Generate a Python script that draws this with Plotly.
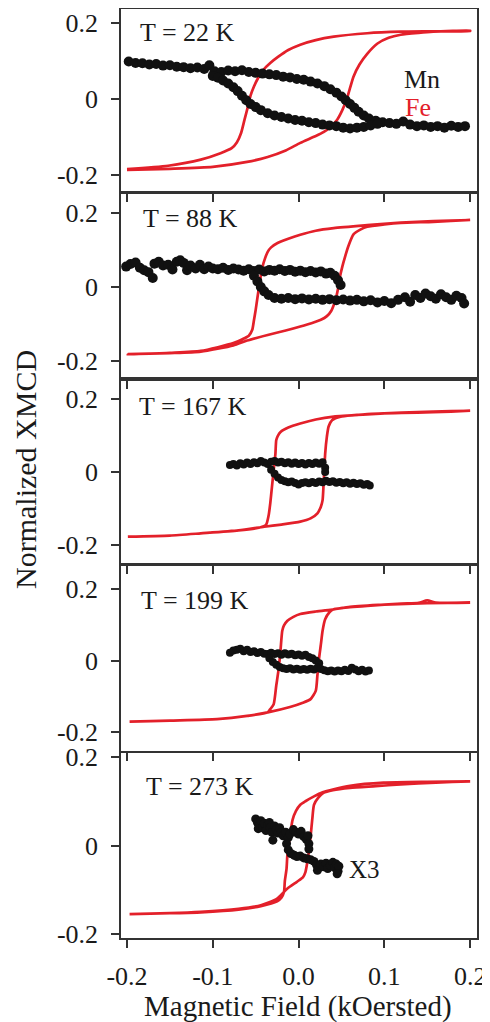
import plotly.graph_objects as go

# ---------------- data ----------------
temps = ["T = 22 K", "T = 88 K", "T = 167 K", "T = 199 K", "T = 273 K"]
x_ticks = [-0.2, -0.1, 0.0, 0.1, 0.2]
x_tick_text = ["-0.2", "-0.1", "0.0", "0.1", "0.2"]
y_ticks = [-0.2, 0, 0.2]
y_tick_text = ["-0.2", "0", "0.2"]

# Fe loops: ascending branch (field -0.2 -> 0.2) then descending branch (0.2 -> -0.2)
fe1_up_x = [-0.2, -0.15, -0.1, -0.06, -0.036, -0.015, 0.002, 0.018, 0.029, 0.038, 0.045, 0.051, 0.057, 0.064, 0.071, 0.08, 0.092, 0.105, 0.119, 0.14, 0.157, 0.18, 0.2]
fe1_up_y = [-0.187, -0.184, -0.179, -0.166, -0.153, -0.136, -0.116, -0.1, -0.088, -0.072, -0.055, -0.03, 0.005, 0.058, 0.09, 0.118, 0.145, 0.16, 0.168, 0.173, 0.176, 0.178, 0.179]
fe1_dn_x = [0.2, 0.15, 0.119, 0.08, 0.041, 0.02, 0.002, -0.012, -0.024, -0.033, -0.041, -0.047, -0.052, -0.056, -0.059, -0.063, -0.067, -0.072, -0.078, -0.091, -0.114, -0.152, -0.2]
fe1_dn_y = [0.178, 0.177, 0.176, 0.172, 0.163, 0.154, 0.142, 0.128, 0.11, 0.094, 0.076, 0.055, 0.032, 0.008, -0.02, -0.055, -0.09, -0.115, -0.13, -0.143, -0.16, -0.176, -0.185]

fe2_up_x = [-0.199, -0.15, -0.114, -0.076, -0.06, -0.036, -0.015, 0.002, 0.015, 0.026, 0.033, 0.038, 0.043, 0.046, 0.048, 0.051, 0.054, 0.058, 0.064, 0.072, 0.08, 0.1, 0.119, 0.157, 0.2]
fe2_up_y = [-0.182, -0.179, -0.175, -0.158, -0.145, -0.13, -0.118, -0.107, -0.098, -0.089, -0.079, -0.065, -0.035, -0.005, 0.025, 0.055, 0.08, 0.11, 0.142, 0.155, 0.163, 0.169, 0.173, 0.176, 0.181]
fe2_dn_x = [0.2, 0.157, 0.119, 0.08, 0.041, 0.02, 0.002, -0.012, -0.025, -0.032, -0.036, -0.039, -0.042, -0.044, -0.046, -0.048, -0.05, -0.052, -0.054, -0.058, -0.066, -0.076, -0.114, -0.15, -0.199]
fe2_dn_y = [0.181, 0.178, 0.174, 0.167, 0.159, 0.152, 0.141, 0.13, 0.118, 0.107, 0.095, 0.078, 0.055, 0.03, 0.001, -0.03, -0.062, -0.09, -0.116, -0.132, -0.142, -0.152, -0.173, -0.178, -0.182]

fe3_up_x = [-0.199, -0.15, -0.114, -0.07, -0.04, -0.02, 0.002, 0.014, 0.022, 0.026, 0.028, 0.029, 0.03, 0.031, 0.033, 0.035, 0.039, 0.049, 0.065, 0.08, 0.12, 0.157, 0.2]
fe3_up_y = [-0.177, -0.174, -0.168, -0.16, -0.15, -0.144, -0.136, -0.127, -0.113, -0.095, -0.077, -0.04, 0.005, 0.05, 0.097, 0.125, 0.142, 0.152, 0.156, 0.159, 0.162, 0.164, 0.168]
fe3_dn_x = [0.2, 0.157, 0.12, 0.08, 0.041, 0.02, 0.002, -0.012, -0.021, -0.024, -0.026, -0.027, -0.029, -0.031, -0.033, -0.035, -0.038, -0.045, -0.07, -0.114, -0.15, -0.199]
fe3_dn_y = [0.168, 0.166, 0.163, 0.158, 0.152, 0.144, 0.133, 0.122, 0.11, 0.1, 0.088, 0.05, 0.005, -0.04, -0.086, -0.12, -0.145, -0.152, -0.16, -0.168, -0.174, -0.177]

fe4_up_x = [-0.197, -0.15, -0.095, -0.06, -0.036, -0.01, 0.005, 0.014, 0.02, 0.022, 0.024, 0.026, 0.028, 0.031, 0.036, 0.041, 0.06, 0.08, 0.12, 0.14, 0.15, 0.16, 0.2]
fe4_up_y = [-0.171, -0.168, -0.164, -0.155, -0.145, -0.13, -0.118, -0.108, -0.085, -0.04, 0.008, 0.045, 0.083, 0.115, 0.135, 0.143, 0.149, 0.153, 0.159, 0.161, 0.168, 0.162, 0.162]
fe4_dn_x = [0.2, 0.15, 0.1, 0.06, 0.041, 0.02, 0.002, -0.006, -0.013, -0.017, -0.019, -0.021, -0.023, -0.026, -0.029, -0.033, -0.036, -0.06, -0.095, -0.15, -0.197]
fe4_dn_y = [0.162, 0.16, 0.156, 0.15, 0.143, 0.137, 0.13, 0.122, 0.111, 0.098, 0.083, 0.03, -0.02, -0.07, -0.122, -0.136, -0.145, -0.155, -0.164, -0.168, -0.171]

fe5_up_x = [-0.197, -0.15, -0.114, -0.07, -0.044, -0.025, -0.013, -0.002, 0.005, 0.008, 0.01, 0.012, 0.014, 0.016, 0.018, 0.023, 0.029, 0.04, 0.06, 0.09, 0.119, 0.16, 0.2]
fe5_up_y = [-0.155, -0.153, -0.15, -0.143, -0.135, -0.12, -0.097, -0.082, -0.072, -0.06, -0.04, -0.014, 0.02, 0.06, 0.092, 0.108, 0.119, 0.125, 0.13, 0.134, 0.138, 0.142, 0.145]
fe5_dn_x = [0.2, 0.15, 0.099, 0.06, 0.041, 0.028, 0.018, 0.008, 0.002, -0.003, -0.007, -0.009, -0.011, -0.013, -0.014, -0.016, -0.017, -0.02, -0.025, -0.044, -0.07, -0.114, -0.15, -0.197]
fe5_dn_y = [0.145, 0.144, 0.142, 0.135, 0.127, 0.12, 0.111, 0.1, 0.092, 0.078, 0.058, 0.035, 0.009, -0.02, -0.052, -0.08, -0.105, -0.118, -0.126, -0.137, -0.145, -0.151, -0.153, -0.155]

# Mn XMCD points
mn1_x = [-0.198, -0.19, -0.182, -0.174, -0.166, -0.158, -0.15, -0.142, -0.134, -0.126, -0.118, -0.11, -0.104,
         -0.098, -0.09, -0.082, -0.074, -0.066, -0.058, -0.05, -0.042, -0.034, -0.026, -0.018, -0.01, -0.002, 0.006, 0.014, 0.022, 0.03, 0.037, 0.044, 0.05, 0.055, 0.06, 0.065, 0.07, 0.076, 0.082, 0.09, 0.098,
         0.106, 0.114, 0.122, 0.13, 0.138, 0.146, 0.154, 0.162, 0.17, 0.178, 0.186, 0.194,
         -0.1, -0.094, -0.088, -0.082, -0.076, -0.071, -0.066, -0.061, -0.056, -0.05, -0.044, -0.036, -0.028, -0.02, -0.012, -0.004, 0.004, 0.012, 0.02, 0.028, 0.036, 0.044, 0.052, 0.06, 0.068, 0.076, 0.084, 0.092]
mn1_y = [0.098, 0.094, 0.093, 0.09, 0.091, 0.087, 0.088, 0.084, 0.083, 0.08, 0.082, 0.078, 0.088,
         0.072, 0.07, 0.074, 0.072, 0.075, 0.07, 0.068, 0.066, 0.064, 0.062, 0.058, 0.056, 0.052, 0.05, 0.045, 0.04, 0.033, 0.025, 0.016, 0.006, -0.004, -0.014, -0.024, -0.034, -0.044, -0.052, -0.058, -0.062,
         -0.064, -0.066, -0.06, -0.068, -0.072, -0.07, -0.074, -0.072, -0.076, -0.071, -0.074, -0.072,
         0.06, 0.055, 0.048, 0.04, 0.03, 0.02, 0.008, -0.004, -0.014, -0.022, -0.03, -0.038, -0.044, -0.048, -0.052, -0.056, -0.058, -0.062, -0.064, -0.068, -0.07, -0.072, -0.076, -0.078, -0.076, -0.074, -0.07, -0.066]

mn2_x = [-0.201, -0.196, -0.19, -0.185, -0.18, -0.175, -0.17, -0.168, -0.163, -0.158, -0.152, -0.147, -0.142, -0.138, -0.134, -0.13, -0.126, -0.12, -0.115, -0.11, -0.105, -0.1,
         -0.094, -0.088, -0.082, -0.076, -0.07, -0.064, -0.058, -0.052, -0.046, -0.04, -0.034, -0.028, -0.022, -0.016, -0.01, -0.004, 0.002, 0.008, 0.014, 0.02, 0.026, 0.032, 0.037, 0.042, 0.046, 0.049,
         -0.052, -0.048, -0.044, -0.04, -0.035, -0.028, -0.02, -0.012, -0.004, 0.004, 0.012, 0.02, 0.028, 0.036, 0.044, 0.052, 0.06, 0.068, 0.076, 0.084, 0.092, 0.1, 0.108, 0.116, 0.124, 0.13, 0.136, 0.142, 0.148, 0.154, 0.16, 0.166, 0.172, 0.178, 0.184, 0.19, 0.193]
mn2_y = [0.055, 0.062, 0.066, 0.052, 0.045, 0.04, 0.024, 0.063, 0.068, 0.058, 0.06, 0.047, 0.068, 0.072, 0.065, 0.045, 0.058, 0.05, 0.06, 0.048, 0.055, 0.05,
         0.048, 0.052, 0.046, 0.05, 0.047, 0.044, 0.048, 0.043, 0.047, 0.042, 0.046, 0.044, 0.048, 0.043, 0.046, 0.041, 0.044, 0.04, 0.043, 0.039, 0.042, 0.036, 0.038, 0.03, 0.018, 0.005,
         0.03, 0.015, 0.0, -0.012, -0.022, -0.03, -0.032, -0.03, -0.033, -0.031, -0.034, -0.032, -0.035, -0.033, -0.036, -0.034, -0.037, -0.035, -0.039, -0.036, -0.042, -0.038, -0.044, -0.035, -0.028, -0.04, -0.022, -0.03, -0.018, -0.025, -0.032, -0.02, -0.028, -0.035, -0.024, -0.03, -0.045]

mn3_x = [-0.08, -0.076, -0.072, -0.068, -0.064, -0.06, -0.056, -0.052, -0.048, -0.044, -0.04, -0.036, -0.032, -0.028, -0.024, -0.02, -0.016, -0.012, -0.008, -0.004, 0.0, 0.004, 0.008, 0.012, 0.016, 0.02, 0.024, 0.028, 0.031, 0.031,
         -0.032, -0.028, -0.024, -0.02, -0.016, -0.012, -0.008, -0.004, 0.0, 0.004, 0.008, 0.012, 0.016, 0.02, 0.024, 0.028, 0.032, 0.036, 0.04, 0.044, 0.048, 0.052, 0.056, 0.06, 0.064, 0.068, 0.072, 0.076, 0.08, 0.083]
mn3_y = [0.019, 0.022, 0.018, 0.024, 0.021, 0.026, 0.022, 0.027, 0.024, 0.03, 0.026, 0.022, 0.028, 0.03, 0.026, 0.028, 0.024, 0.027, 0.023, 0.026, 0.022, 0.025, 0.021, 0.025, 0.022, 0.026, 0.023, 0.027, 0.012, 0.0,
         0.006, -0.005, -0.015, -0.022, -0.025, -0.028, -0.026, -0.03, -0.034, -0.03, -0.028, -0.031, -0.027, -0.03, -0.026, -0.028, -0.024, -0.027, -0.025, -0.029, -0.027, -0.031, -0.028, -0.032, -0.029, -0.033, -0.031, -0.035, -0.033, -0.037]

mn4_x = [-0.08, -0.076, -0.072, -0.068, -0.064, -0.06, -0.056, -0.052, -0.048, -0.044, -0.04, -0.036, -0.032, -0.028, -0.024, -0.02, -0.016, -0.012, -0.008, -0.004, 0.0, 0.004, 0.008, 0.012, 0.016, 0.02, 0.024,
         -0.034, -0.03, -0.026, -0.022, -0.018, -0.014, -0.01, -0.006, -0.002, 0.002, 0.006, 0.01, 0.014, 0.018, 0.022, 0.026, 0.03, 0.034, 0.038, 0.042, 0.046, 0.05, 0.054, 0.058, 0.062, 0.066, 0.07, 0.074, 0.078, 0.082]
mn4_y = [0.022, 0.028, 0.03, 0.033, 0.026, 0.03, 0.024, 0.026, 0.021, 0.024, 0.019, 0.018, 0.022, 0.018, 0.02, 0.016, 0.02, 0.017, 0.019, 0.015, 0.017, 0.013, 0.016, 0.01, 0.006, 0.0, -0.008,
         0.006, -0.004, -0.012, -0.018, -0.022, -0.024, -0.022, -0.025, -0.023, -0.026, -0.024, -0.026, -0.023, -0.025, -0.02, -0.024, -0.027, -0.03, -0.028, -0.031, -0.028, -0.03, -0.026, -0.029, -0.02, -0.025, -0.03, -0.026, -0.031, -0.028]

mn5_x = [-0.05, -0.048, -0.046, -0.047, -0.044, -0.042, -0.04, -0.038, -0.036, -0.034, -0.033, -0.031, -0.03, -0.028, -0.026, -0.024, -0.022, -0.02, -0.018, -0.015, -0.012, -0.01, -0.006, -0.003, 0.0, 0.003, 0.006, 0.009, 0.011, 0.012, 0.012,
         -0.014, -0.012, -0.009, -0.005, -0.002, 0.002, 0.006, 0.01, 0.014, 0.018, 0.021, 0.024, 0.022, 0.026, 0.029, 0.032, 0.034, 0.037, 0.04, 0.042, 0.044, 0.046, 0.047, 0.045]
mn5_y = [0.06, 0.052, 0.045, 0.038, 0.056, 0.04, 0.05, 0.034, 0.046, 0.052, 0.04, 0.03, 0.012, 0.044, 0.036, 0.028, 0.04, 0.03, 0.022, 0.03, 0.018, 0.026, 0.036, 0.03, 0.026, 0.032, 0.02, 0.014, 0.022, 0.004, -0.008,
         0.004, -0.01, -0.018, -0.022, -0.025, -0.024, -0.028, -0.03, -0.032, -0.036, -0.044, -0.05, -0.056, -0.042, -0.048, -0.04, -0.052, -0.045, -0.038, -0.05, -0.042, -0.058, -0.047, -0.064]

fe_loops = [
    (fe1_up_x + fe1_dn_x, fe1_up_y + fe1_dn_y),
    (fe2_up_x + fe2_dn_x, fe2_up_y + fe2_dn_y),
    (fe3_up_x + fe3_dn_x, fe3_up_y + fe3_dn_y),
    (fe4_up_x + fe4_dn_x, fe4_up_y + fe4_dn_y),
    (fe5_up_x + fe5_dn_x, fe5_up_y + fe5_dn_y),
]
mn_points = [(mn1_x, mn1_y), (mn2_x, mn2_y), (mn3_x, mn3_y), (mn4_x, mn4_y), (mn5_x, mn5_y)]

# ---------------- layout geometry ----------------
# The page body keeps its default 8px margin, so the figure is drawn 8px in from the
# window's top-left corner; window pixel p corresponds to figure pixel p - OFF.
OFF = 8
W, H = 490 - OFF, 1022 - OFF
FONT = "Liberation Serif, Times New Roman, serif"
RED = "#e3202a"
BLACK = "#111111"
AX = "#333333"
TXT = "#1a1a1a"


def px_x(p):
    return (p - OFF) / W


def px_y(p):
    return 1 - (p - OFF) / H


panel_px = [(8.5, 192), (193, 379), (379, 564), (565, 751), (753, 938)]
y_ranges = [(-0.245, 0.237), (-0.249, 0.254), (-0.252, 0.255), (-0.253, 0.267), (-0.209, 0.209)]
label_pos = [(-0.187, 0.174), (-0.184, 0.186), (-0.188, 0.179), (-0.186, 0.167), (-0.18, 0.134)]
marker_sizes = [10, 10, 8, 8, 9]

x_dom = [px_x(121), px_x(477)]
x_range = [-0.207, 0.208]

fig = go.Figure()
layout = dict(
    template="none",
    width=W, height=H,
    margin=dict(l=0, r=0, t=0, b=0, pad=0, autoexpand=False),
    paper_bgcolor="white", plot_bgcolor="white",
    showlegend=False,
    font=dict(family=FONT, color=TXT),
)
annotations = []

for i in range(5):
    n = i + 1
    xa = "x" if n == 1 else f"x{n}"
    ya = "y" if n == 1 else f"y{n}"
    fx, fy = fe_loops[i]
    fig.add_trace(go.Scatter(x=fx, y=fy, mode="lines", xaxis=xa, yaxis=ya,
                             line=dict(color=RED, width=2.7, shape="spline", smoothing=0.6)))
    mx, my = mn_points[i]
    fig.add_trace(go.Scatter(x=mx, y=my, mode="markers", xaxis=xa, yaxis=ya,
                             marker=dict(color=BLACK, size=marker_sizes[i], line=dict(width=0))))
    top, bot = panel_px[i]
    xkey = "xaxis" if n == 1 else f"xaxis{n}"
    ykey = "yaxis" if n == 1 else f"yaxis{n}"
    layout[xkey] = dict(
        domain=x_dom, range=x_range, anchor=ya, automargin=False,
        tickvals=x_ticks, ticktext=x_tick_text, showticklabels=(n == 5),
        ticks="outside", ticklen=8, tickwidth=1.5, tickcolor=AX,
        showline=True, linecolor=AX, linewidth=1.5, mirror=True,
        showgrid=False, zeroline=False,
        tickfont=dict(family=FONT, size=26, color=TXT),
        ticklabelstandoff=6,
    )
    layout[ykey] = dict(
        domain=[px_y(bot), px_y(top)], range=list(y_ranges[i]), anchor=xa, automargin=False,
        tickvals=y_ticks, ticktext=y_tick_text,
        ticks="outside", ticklen=8, tickwidth=1.5, tickcolor=AX,
        showline=True, linecolor=AX, linewidth=1.5, mirror=True,
        showgrid=False, zeroline=False,
        tickfont=dict(family=FONT, size=26, color=TXT),
        ticklabelstandoff=8,
    )
    lx, ly = label_pos[i]
    annotations.append(dict(x=lx, y=ly, xref=xa, yref=ya, text=temps[i], showarrow=False,
                            xanchor="left", yanchor="middle",
                            font=dict(family=FONT, size=26, color=TXT)))

annotations += [
    dict(x=0.121, y=0.05, xref="x", yref="y", text="Mn", showarrow=False, xanchor="left", yanchor="middle",
         font=dict(family=FONT, size=26, color=TXT)),
    dict(x=0.122, y=-0.024, xref="x", yref="y", text="Fe", showarrow=False, xanchor="left", yanchor="middle",
         font=dict(family=FONT, size=26, color=RED)),
    dict(x=0.057, y=-0.055, xref="x5", yref="y5", text="X3", showarrow=False, xanchor="left", yanchor="middle",
         font=dict(family=FONT, size=25, color=TXT)),
    dict(x=px_x(298), y=px_y(1006), xref="paper", yref="paper", text="Magnetic Field (kOersted)",
         showarrow=False, xanchor="center", yanchor="middle",
         font=dict(family=FONT, size=29, color=TXT)),
    dict(x=px_x(25), y=px_y(470), xref="paper", yref="paper", text="Normalized XMCD", textangle=-90,
         showarrow=False, xanchor="center", yanchor="middle",
         font=dict(family=FONT, size=30, color=TXT)),
]
layout["annotations"] = annotations
fig.update_layout(**layout)
fig.write_html("out.html")
